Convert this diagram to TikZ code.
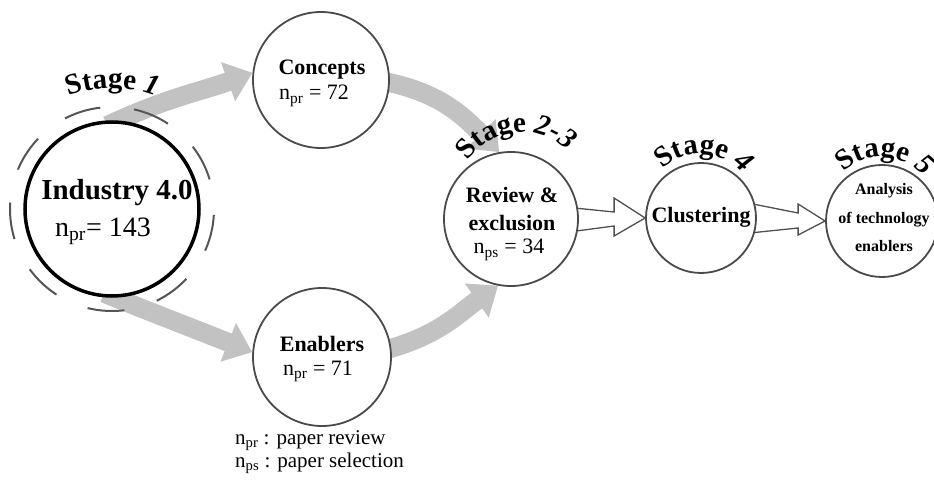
\documentclass[tikz,border=0pt]{standalone}
\usepackage{fontspec}
\setmainfont{Liberation Serif}
\usetikzlibrary{arrows.meta,decorations.text,calc}
\pgfdeclarelayer{background}
\pgfsetlayers{background,main}

\definecolor{circgray}{HTML}{4A4A4A}
\definecolor{bandgray}{HTML}{C2C2C2}
\definecolor{ringgray}{HTML}{555555}
\definecolor{outlinegray}{HTML}{505050}

\newcommand\stagefont{\fontsize{29bp}{31bp}\selectfont\bfseries}
\newcommand\stagenum{\fontsize{29bp}{31bp}\selectfont\bfseries\itshape}

\begin{document}
\begin{tikzpicture}[x=1bp,y=1bp,
  stagecircle/.style={circle, draw=circgray, line width=1.8bp, fill=white,
                      inner sep=0pt, minimum size=#1},
  txt/.style={inner sep=0pt},
  title/.style={txt, anchor=base, font=\fontsize{22bp}{24bp}\selectfont\bfseries},
  count/.style={txt, font=\fontsize{22bp}{24bp}\selectfont},
  band/.style={draw=bandgray, line width=19bp, shorten <=-12bp,
               -{Triangle[length=26bp,width=40bp]}},
  hollow/.style={draw=outlinegray, line width=1.3bp, fill=white, line join=miter},
  stagelabel/.style={decorate, decoration={text along path, text align=left, text={#1}}}
]
\useasboundingbox (0,0) rectangle (934,-486);

% stage circles
\node[stagecircle=174bp, draw=black, line width=3.5bp] (ind) at (112,-209) {};
\node[stagecircle=136bp] (con) at (321,-80) {};
\node[stagecircle=138bp] (enb) at (322,-357) {};
\node[stagecircle=134bp] (rev) at (511,-219) {};
\node[stagecircle=110bp] (clu) at (701,-218) {};
\node[stagecircle=112bp] (ana) at (882,-221) {};

% flows between the stages, kept under the circles
\begin{pgfonlayer}{background}
  \draw[band] (ind.86) to[out=25,in=200] (con.174);
  \draw[band] (ind.272) to[out=-22,in=158] (enb.176);
  \draw[band] (con.-2) to[out=-10,in=135] (rev.100);
  \draw[band] (enb.7) to[out=14,in=215] (rev.259);

  \draw[hollow] (rev.9) -- ($(clu.west)+(-31,6)$) -- ($(clu.west)+(-31,20)$)
        -- (clu.west) -- ($(clu.west)+(-31,-18)$) -- ($(clu.west)+(-31,-8)$) -- (rev.-10);
  \draw[hollow] (clu.14) -- ($(ana.west)+(-27,8)$) -- ($(ana.west)+(-27,17)$)
        -- (ana.west) -- ($(ana.west)+(-27,-14)$) -- ($(ana.west)+(-27,-7)$) -- (clu.-15);
\end{pgfonlayer}

% dashed ring round the starting circle
\draw[ringgray, line width=2bp, dash pattern=on 37bp off 34bp, dash phase=41bp]
  (ind.center) circle[radius=102];

% circle texts
\node[txt, anchor=base, font=\fontsize{29bp}{31bp}\selectfont\bfseries] (indT) at (117,-200) {Industry 4.0};
\node[txt, anchor=base west, font=\fontsize{28bp}{30bp}\selectfont] (indN) at (55,-237) {n\textsubscript{pr}= 143};

\node[title] (conT) at (322,-75) {Concepts};
\node[count, anchor=base west] (conN) at (279,-100) {n\textsubscript{pr} = 72};

\node[title] (enbT) at (322,-352) {Enablers};
\node[count, anchor=base west] (enbN) at (283,-375) {n\textsubscript{pr} = 71};

\node[title] (revT1) at (512,-203) {Review \&};
\node[title] (revT2) at (512,-231) {exclusion};
\node[count, anchor=base] (revN) at (509,-254) {n\textsubscript{ps} = 34};

\node[title] (cluT) at (701,-223) {Clustering};

\node[title, font=\fontsize{16bp}{18bp}\selectfont\bfseries] (anaT1) at (884,-195) {Analysis};
\node[title, font=\fontsize{16bp}{18bp}\selectfont\bfseries] (anaT2) at (884,-224) {of technology};
\node[title, font=\fontsize{16bp}{18bp}\selectfont\bfseries] (anaT3) at (884,-252) {enablers};

% arched stage labels
\path[stagelabel={|\stagefont|Stage |\stagenum|1}]
  ([shift={(111:121)}]ind.center) arc[start angle=111, end angle=30, radius=121];
\path[stagelabel={|\stagefont|Stage |\stagenum|2-3}]
  ([shift={(146:65)}]522,-197) arc[start angle=146, end angle=0, radius=65];
\path[stagelabel={|\stagefont|Stage |\stagenum|4}]
  ([shift={(134:55)}]701,-209) arc[start angle=134, end angle=-10, radius=55];
\path[stagelabel={|\stagefont|Stage |\stagenum|5}]
  ([shift={(134:55)}]882,-212) arc[start angle=134, end angle=-10, radius=55];

% legend
\node[txt, anchor=base west, font=\fontsize{21bp}{23bp}\selectfont] (legpr) at (235,-444) {n\textsubscript{pr} : paper review};
\node[txt, anchor=base west, font=\fontsize{21bp}{23bp}\selectfont] (legps) at (235,-467) {n\textsubscript{ps} : paper selection};
\end{tikzpicture}
\end{document}
